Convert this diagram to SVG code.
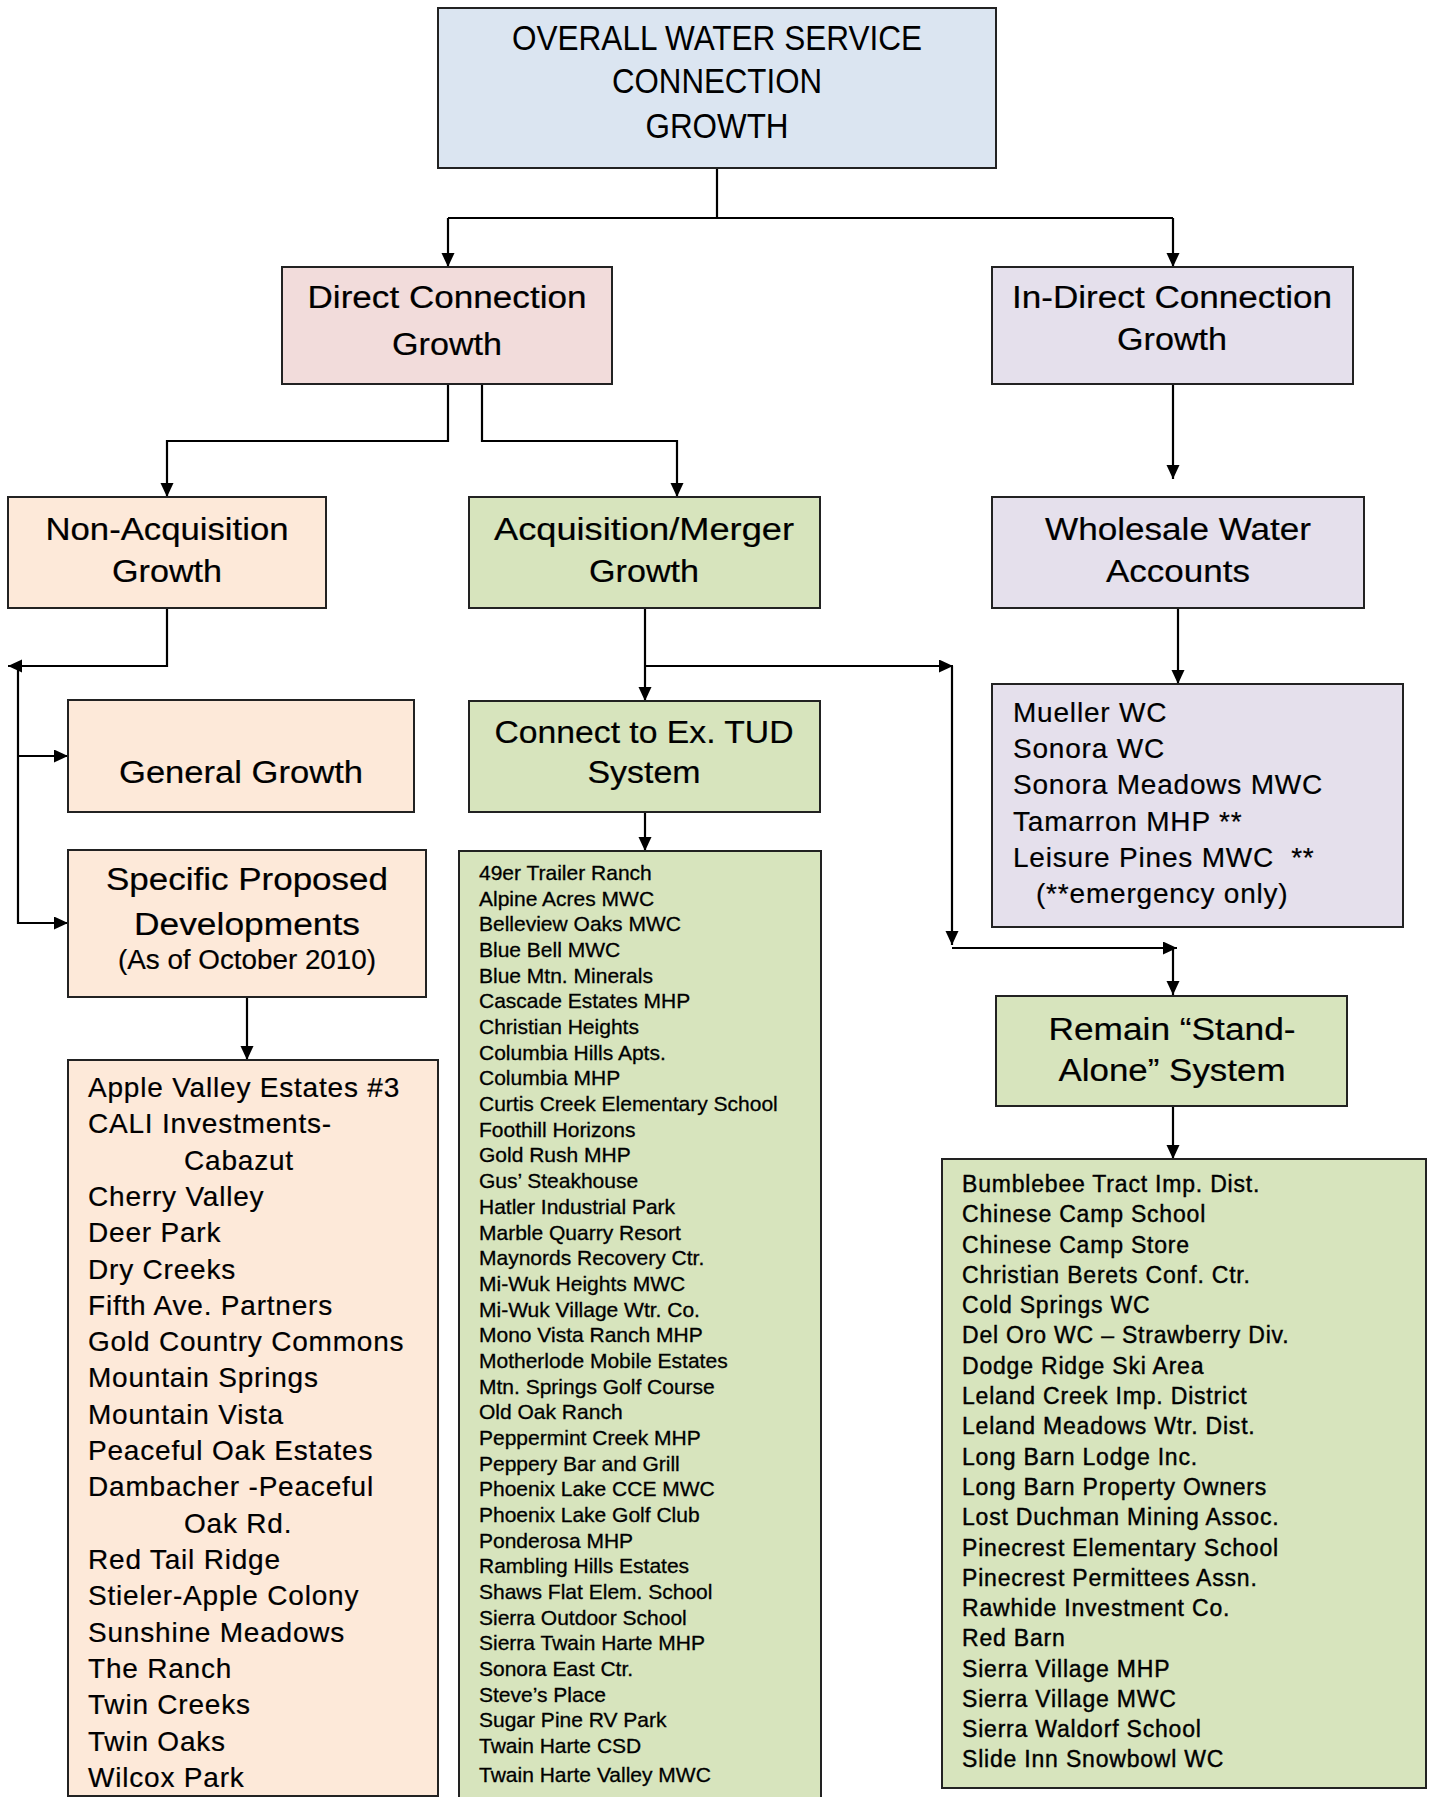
<svg xmlns="http://www.w3.org/2000/svg" width="1433" height="1797" viewBox="0 0 1433 1797">
<defs>
<marker id="arr" markerUnits="userSpaceOnUse" markerWidth="15" markerHeight="14" refX="14" refY="6.5" orient="auto">
<path d="M0,0 L14,6.5 L0,13 z" fill="#000"/>
</marker>
<style>
.box{stroke:#222;stroke-width:2}
.blue{fill:#dbe5f1}
.pink{fill:#f2dcdb}
.lav{fill:#e5e0ec}
.peach{fill:#fde9d9}
.green{fill:#d7e4bd}
.hd{font-family:"Liberation Sans",Arial,sans-serif;font-size:31px;fill:#000;text-anchor:middle;stroke:#000;stroke-width:0.2}
.tt{font-family:"Liberation Sans",Arial,sans-serif;font-size:35px;fill:#000;text-anchor:middle}
.ol{font-family:"Liberation Sans",Arial,sans-serif;font-size:28px;letter-spacing:0.8px;fill:#000;stroke:#000;stroke-width:0.2}
.gl{font-family:"Liberation Sans",Arial,sans-serif;font-size:21px;fill:#000;stroke:#000;stroke-width:0.3}
.rl{font-family:"Liberation Sans",Arial,sans-serif;font-size:23px;letter-spacing:0.8px;fill:#000;stroke:#000;stroke-width:0.4}
.con{fill:none;stroke:#000;stroke-width:2.2}
</style>
</defs>
<rect width="1433" height="1797" fill="#fff"/>

<g id="connectors">
<path class="con" d="M717,168 V218 M448,218 H1173"/>
<path class="con" d="M448,218 V267" marker-end="url(#arr)"/>
<path class="con" d="M1173,218 V267" marker-end="url(#arr)"/>
<path class="con" d="M448,384 V441 H167 V497" marker-end="url(#arr)"/>
<path class="con" d="M482,384 V441 H677 V497" marker-end="url(#arr)"/>
<path class="con" d="M1173,384 V479" marker-end="url(#arr)"/>
<path class="con" d="M1178,608 V684" marker-end="url(#arr)"/>
<path class="con" d="M167,608 V666 H8" marker-end="url(#arr)"/>
<path class="con" d="M18,666 V923 H68" marker-end="url(#arr)"/>
<path class="con" d="M18,756 H68" marker-end="url(#arr)"/>
<path class="con" d="M247,997 V1060" marker-end="url(#arr)"/>
<path class="con" d="M645,608 V701" marker-end="url(#arr)"/>
<path class="con" d="M645,666 H953" marker-end="url(#arr)"/>
<path class="con" d="M952,666 V945" marker-end="url(#arr)"/>
<path class="con" d="M952,948 H1177" marker-end="url(#arr)"/>
<path class="con" d="M1173,948 V995" marker-end="url(#arr)"/>
<path class="con" d="M645,812 V851" marker-end="url(#arr)"/>
<path class="con" d="M1173,1106 V1159" marker-end="url(#arr)"/>
</g>

<g id="overall">
<rect class="box blue" x="438" y="8" width="558" height="160"/>
<text class="tt" x="717" y="50" textLength="410" lengthAdjust="spacingAndGlyphs">OVERALL WATER SERVICE</text>
<text class="tt" x="717" y="93" textLength="210" lengthAdjust="spacingAndGlyphs">CONNECTION</text>
<text class="tt" x="717" y="138" textLength="143" lengthAdjust="spacingAndGlyphs">GROWTH</text>
</g>

<g id="direct">
<rect class="box pink" x="282" y="267" width="330" height="117"/>
<text class="hd" x="447" y="308" textLength="279" lengthAdjust="spacingAndGlyphs">Direct Connection</text>
<text class="hd" x="447" y="355" textLength="110" lengthAdjust="spacingAndGlyphs">Growth</text>
</g>

<g id="indirect">
<rect class="box lav" x="992" y="267" width="361" height="117"/>
<text class="hd" x="1172" y="308" textLength="320" lengthAdjust="spacingAndGlyphs">In-Direct Connection</text>
<text class="hd" x="1172" y="350" textLength="110" lengthAdjust="spacingAndGlyphs">Growth</text>
</g>

<g id="nonacq">
<rect class="box peach" x="8" y="497" width="318" height="111"/>
<text class="hd" x="167" y="540" textLength="243" lengthAdjust="spacingAndGlyphs">Non-Acquisition</text>
<text class="hd" x="167" y="582" textLength="110" lengthAdjust="spacingAndGlyphs">Growth</text>
</g>

<g id="acq">
<rect class="box green" x="469" y="497" width="351" height="111"/>
<text class="hd" x="644" y="540" textLength="300" lengthAdjust="spacingAndGlyphs">Acquisition/Merger</text>
<text class="hd" x="644" y="582" textLength="110" lengthAdjust="spacingAndGlyphs">Growth</text>
</g>

<g id="wholesale">
<rect class="box lav" x="992" y="497" width="372" height="111"/>
<text class="hd" x="1178" y="540" textLength="266" lengthAdjust="spacingAndGlyphs">Wholesale Water</text>
<text class="hd" x="1178" y="582" textLength="144" lengthAdjust="spacingAndGlyphs">Accounts</text>
</g>

<g id="general">
<rect class="box peach" x="68" y="700" width="346" height="112"/>
<text class="hd" x="241" y="783" textLength="244" lengthAdjust="spacingAndGlyphs">General Growth</text>
</g>

<g id="connect">
<rect class="box green" x="469" y="701" width="351" height="111"/>
<text class="hd" x="644" y="743" textLength="299" lengthAdjust="spacingAndGlyphs">Connect to Ex. TUD</text>
<text class="hd" x="644" y="783" textLength="113" lengthAdjust="spacingAndGlyphs">System</text>
</g>

<g id="wholesale-list">
<rect class="box lav" x="992" y="684" width="411" height="243"/>
<text class="ol" x="1013" y="722">Mueller WC</text>
<text class="ol" x="1013" y="758">Sonora WC</text>
<text class="ol" x="1013" y="794">Sonora Meadows MWC</text>
<text class="ol" x="1013" y="831">Tamarron MHP **</text>
<text class="ol" x="1013" y="867" xml:space="preserve">Leisure Pines MWC  **</text>
<text class="ol" x="1036" y="903">(**emergency only)</text>
</g>

<g id="specific">
<rect class="box peach" x="68" y="850" width="358" height="147"/>
<text class="hd" x="247" y="890" textLength="282" lengthAdjust="spacingAndGlyphs">Specific Proposed</text>
<text class="hd" x="247" y="935" textLength="226" lengthAdjust="spacingAndGlyphs">Developments</text>
<text class="hd" x="247" y="969" style="font-size:27px" textLength="258" lengthAdjust="spacingAndGlyphs">(As of October 2010)</text>
</g>

<g id="remain">
<rect class="box green" x="996" y="996" width="351" height="110"/>
<text class="hd" x="1172" y="1040" textLength="247" lengthAdjust="spacingAndGlyphs">Remain “Stand-</text>
<text class="hd" x="1172" y="1081" textLength="227" lengthAdjust="spacingAndGlyphs">Alone” System</text>
</g>

<g id="specific-list">
<rect class="box peach" x="68" y="1060" width="370" height="736"/>
<text class="ol" x="88" y="1097">Apple Valley Estates #3</text>
<text class="ol" x="88" y="1133">CALI Investments-</text>
<text class="ol" x="184" y="1170">Cabazut</text>
<text class="ol" x="88" y="1206">Cherry Valley</text>
<text class="ol" x="88" y="1242">Deer Park</text>
<text class="ol" x="88" y="1279">Dry Creeks</text>
<text class="ol" x="88" y="1315">Fifth Ave. Partners</text>
<text class="ol" x="88" y="1351">Gold Country Commons</text>
<text class="ol" x="88" y="1387">Mountain Springs</text>
<text class="ol" x="88" y="1424">Mountain Vista</text>
<text class="ol" x="88" y="1460">Peaceful Oak Estates</text>
<text class="ol" x="88" y="1496">Dambacher -Peaceful</text>
<text class="ol" x="184" y="1533">Oak Rd.</text>
<text class="ol" x="88" y="1569">Red Tail Ridge</text>
<text class="ol" x="88" y="1605">Stieler-Apple Colony</text>
<text class="ol" x="88" y="1642">Sunshine Meadows</text>
<text class="ol" x="88" y="1678">The Ranch</text>
<text class="ol" x="88" y="1714">Twin Creeks</text>
<text class="ol" x="88" y="1751">Twin Oaks</text>
<text class="ol" x="88" y="1787">Wilcox Park</text>
</g>

<g id="acq-list">
<rect class="box green" x="459" y="851" width="362" height="960"/>
<text class="gl" x="479" y="880">49er Trailer Ranch</text>
<text class="gl" x="479" y="906">Alpine Acres MWC</text>
<text class="gl" x="479" y="931">Belleview Oaks MWC</text>
<text class="gl" x="479" y="957">Blue Bell MWC</text>
<text class="gl" x="479" y="983">Blue Mtn. Minerals</text>
<text class="gl" x="479" y="1008">Cascade Estates MHP</text>
<text class="gl" x="479" y="1034">Christian Heights</text>
<text class="gl" x="479" y="1060">Columbia Hills Apts.</text>
<text class="gl" x="479" y="1085">Columbia MHP</text>
<text class="gl" x="479" y="1111">Curtis Creek Elementary School</text>
<text class="gl" x="479" y="1137">Foothill Horizons</text>
<text class="gl" x="479" y="1162">Gold Rush MHP</text>
<text class="gl" x="479" y="1188">Gus’ Steakhouse</text>
<text class="gl" x="479" y="1214">Hatler Industrial Park</text>
<text class="gl" x="479" y="1240">Marble Quarry Resort</text>
<text class="gl" x="479" y="1265">Maynords Recovery Ctr.</text>
<text class="gl" x="479" y="1291">Mi-Wuk Heights MWC</text>
<text class="gl" x="479" y="1317">Mi-Wuk Village Wtr. Co.</text>
<text class="gl" x="479" y="1342">Mono Vista Ranch MHP</text>
<text class="gl" x="479" y="1368">Motherlode Mobile Estates</text>
<text class="gl" x="479" y="1394">Mtn. Springs Golf Course</text>
<text class="gl" x="479" y="1419">Old Oak Ranch</text>
<text class="gl" x="479" y="1445">Peppermint Creek MHP</text>
<text class="gl" x="479" y="1471">Peppery Bar and Grill</text>
<text class="gl" x="479" y="1496">Phoenix Lake CCE MWC</text>
<text class="gl" x="479" y="1522">Phoenix Lake Golf Club</text>
<text class="gl" x="479" y="1548">Ponderosa MHP</text>
<text class="gl" x="479" y="1573">Rambling Hills Estates</text>
<text class="gl" x="479" y="1599">Shaws Flat Elem. School</text>
<text class="gl" x="479" y="1625">Sierra Outdoor School</text>
<text class="gl" x="479" y="1650">Sierra Twain Harte MHP</text>
<text class="gl" x="479" y="1676">Sonora East Ctr.</text>
<text class="gl" x="479" y="1702">Steve’s Place</text>
<text class="gl" x="479" y="1727">Sugar Pine RV Park</text>
<text class="gl" x="479" y="1753">Twain Harte CSD</text>
<text class="gl" x="479" y="1782">Twain Harte Valley MWC</text>
</g>

<g id="standalone-list">
<rect class="box green" x="942" y="1159" width="484" height="629"/>
<text class="rl" x="962" y="1192">Bumblebee Tract Imp. Dist.</text>
<text class="rl" x="962" y="1222">Chinese Camp School</text>
<text class="rl" x="962" y="1253">Chinese Camp Store</text>
<text class="rl" x="962" y="1283">Christian Berets Conf. Ctr.</text>
<text class="rl" x="962" y="1313">Cold Springs WC</text>
<text class="rl" x="962" y="1343">Del Oro WC – Strawberry Div.</text>
<text class="rl" x="962" y="1374">Dodge Ridge Ski Area</text>
<text class="rl" x="962" y="1404">Leland Creek Imp. District</text>
<text class="rl" x="962" y="1434">Leland Meadows Wtr. Dist.</text>
<text class="rl" x="962" y="1465">Long Barn Lodge Inc.</text>
<text class="rl" x="962" y="1495">Long Barn Property Owners</text>
<text class="rl" x="962" y="1525">Lost Duchman Mining Assoc.</text>
<text class="rl" x="962" y="1556">Pinecrest Elementary School</text>
<text class="rl" x="962" y="1586">Pinecrest Permittees Assn.</text>
<text class="rl" x="962" y="1616">Rawhide Investment Co.</text>
<text class="rl" x="962" y="1646">Red Barn</text>
<text class="rl" x="962" y="1677">Sierra Village MHP</text>
<text class="rl" x="962" y="1707">Sierra Village MWC</text>
<text class="rl" x="962" y="1737">Sierra Waldorf School</text>
<text class="rl" x="962" y="1767">Slide Inn Snowbowl WC</text>
</g>
</svg>
